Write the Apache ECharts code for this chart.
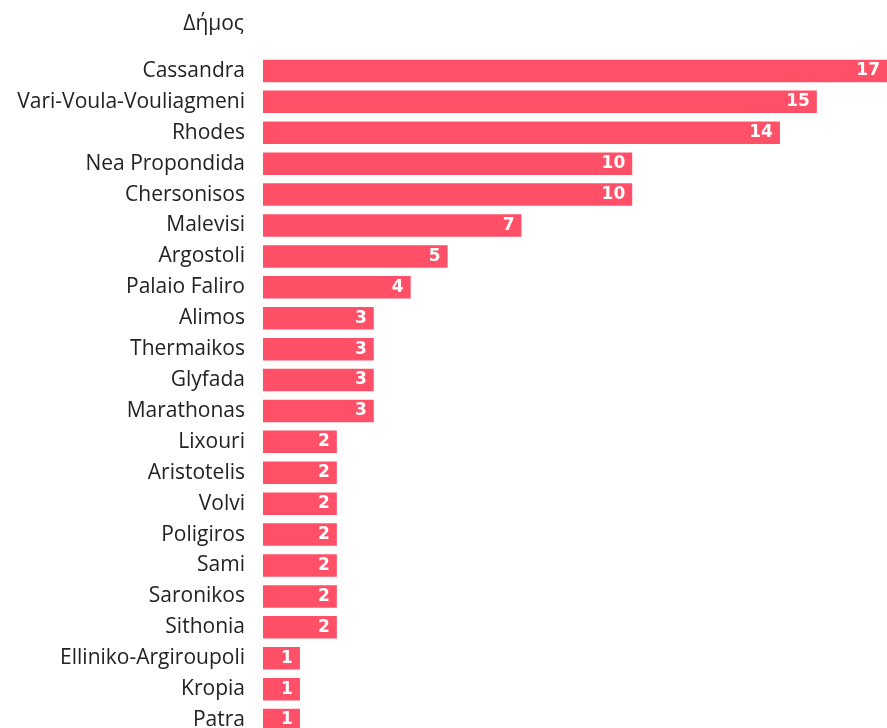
<!DOCTYPE html>
<html>
<head>
<meta charset="utf-8">
<script src="https://cdn.jsdelivr.net/npm/echarts@6/dist/echarts.min.js"></script>
<style>
html,body{margin:0;padding:0;background:#fff;}
#chart{width:887px;height:728px;}
</style>
</head>
<body>
<div id="chart"></div>
<script>
const categories = ["Cassandra","Vari-Voula-Vouliagmeni","Rhodes","Nea Propondida","Chersonisos","Malevisi","Argostoli","Palaio Faliro","Alimos","Thermaikos","Glyfada","Marathonas","Lixouri","Aristotelis","Volvi","Poligiros","Sami","Saronikos","Sithonia","Elliniko-Argiroupoli","Kropia","Patra"];
const values = [17,15,14,10,10,7,5,4,3,3,3,3,2,2,2,2,2,2,2,1,1,1];
const axisTitle = "Δήμος";

const chart = echarts.init(document.getElementById('chart'), null, {renderer:'canvas'});
chart.setOption({
  animation:false,
  backgroundColor:'#ffffff',
  title:{
    text:axisTitle,
    right:643,
    top:14,
    padding:0,
    textStyle:{fontFamily:'Open Sans',fontSize:21,fontWeight:'normal',color:'#222'}
  },
  grid:{left:263,right:0,top:55.5,height:680,containLabel:false,outerBoundsMode:'none'},
  xAxis:{type:'value',min:0,max:16.9,show:false},
  yAxis:{
    type:'category',
    data:categories,
    inverse:true,
    axisLine:{show:false},
    axisTick:{show:false},
    axisLabel:{margin:18,fontFamily:'Open Sans',fontSize:21,color:'#222'}
  },
  series:[{
    type:'bar',
    data:values,
    barWidth:22.5,
    itemStyle:{color:'#FF5067'},
    label:{
      show:true,
      position:'insideRight',
      distance:7,
      color:'#fff',
      fontFamily:'DejaVu Sans',
      fontWeight:'bold',
      fontSize:17
    }
  }]
});
</script>
</body>
</html>
